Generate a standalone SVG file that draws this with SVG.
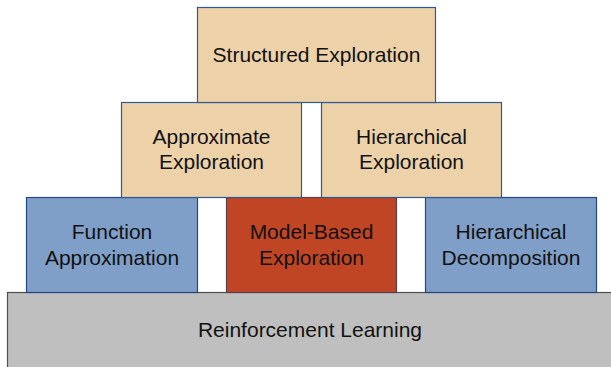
<svg xmlns="http://www.w3.org/2000/svg" width="611" height="367" viewBox="0 0 611 367">
<style>
  .tan{fill:#EDD2A9;stroke:#2F5A93;stroke-width:1.2}
  .blue{fill:#7F9FC9;stroke:#1E4A8A;stroke-width:1.2}
  .red{fill:#C04525;stroke:#5A4050;stroke-width:1.2}
  .gray{fill:#BFBFBF;stroke:#505050;stroke-width:1.2}
  text{font-family:"Liberation Sans",Arial,sans-serif;font-size:21px;fill:#111;text-anchor:middle}
</style>
<rect width="611" height="367" fill="#fff"/>
<g id="reinforcement-learning">
  <rect class="gray" x="7.5" y="292.5" width="610" height="80"/>
  <text x="310" y="336.5">Reinforcement Learning</text>
</g>
<g id="function-approximation">
  <rect class="blue" x="26.5" y="197.5" width="171" height="95"/>
  <text x="112" y="238.5">Function</text>
  <text x="112" y="264.5">Approximation</text>
</g>
<g id="model-based-exploration">
  <rect class="red" x="226.5" y="197.5" width="170" height="95"/>
  <text x="311.5" y="238.5">Model-Based</text>
  <text x="311.5" y="264.5">Exploration</text>
</g>
<g id="hierarchical-decomposition">
  <rect class="blue" x="425.5" y="197.5" width="171" height="95"/>
  <text x="511" y="238.5">Hierarchical</text>
  <text x="511" y="264.5">Decomposition</text>
</g>
<g id="approximate-exploration">
  <rect class="tan" x="121.5" y="102.5" width="180" height="95"/>
  <text x="211.5" y="143.5">Approximate</text>
  <text x="211.5" y="169">Exploration</text>
</g>
<g id="hierarchical-exploration">
  <rect class="tan" x="321.5" y="102.5" width="180" height="95"/>
  <text x="411.5" y="143.5">Hierarchical</text>
  <text x="411.5" y="169">Exploration</text>
</g>
<g id="structured-exploration">
  <rect class="tan" x="197.5" y="7.5" width="238" height="95"/>
  <text x="316.5" y="62">Structured Exploration</text>
</g>
<g id="connectors"></g>
</svg>
